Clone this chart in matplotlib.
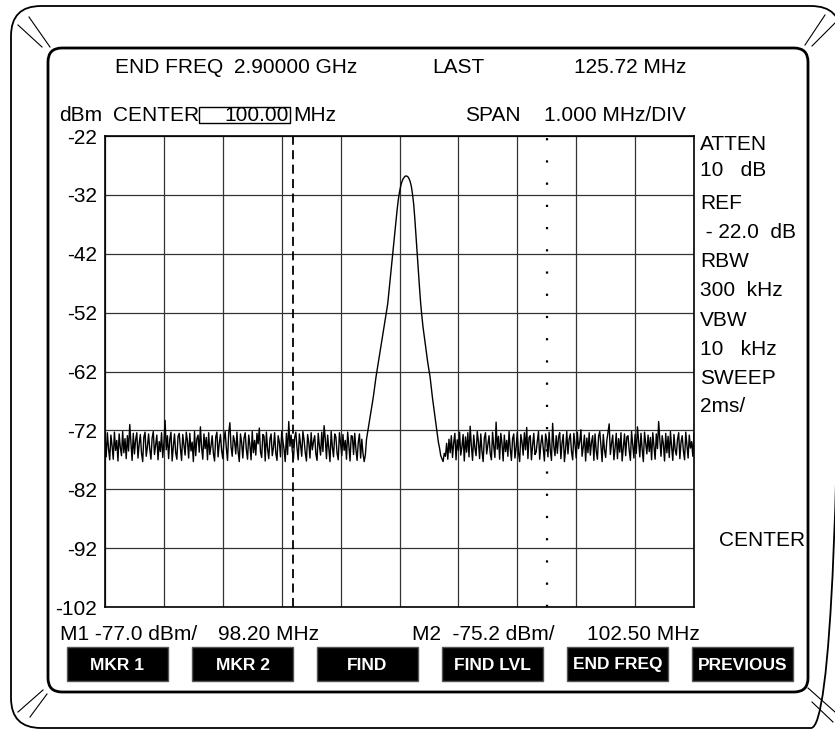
import numpy as np
import matplotlib.pyplot as plt
from matplotlib.patches import FancyBboxPatch, Rectangle

# 字体设置
plt.rcParams['font.family'] = ['Liberation Sans', 'DejaVu Sans']

# === 数据 ===
center_mhz = 100.00
span_mhz_div = 1.000
end_freq_ghz = 2.90000
last_mhz = 125.72
freq = np.linspace(95, 105, 501)   # 扫频点 (MHz), 0.02 MHz 步长

# 95.00 - 99.42 MHz 噪底
noise_left = [
    -73.2, -76.5, -72.4, -75.1, -77.0, -72.8, -74.6, -76.9, -72.3, -75.4,
    -73.7, -77.2, -72.6, -74.9, -76.3, -72.2, -75.8, -73.4, -76.8, -72.9,
    -75.5, -71.0, -74.2, -77.1, -72.5, -76.0, -73.6, -72.4, -76.7, -74.3,
    -72.7, -75.9, -77.3, -73.1, -72.3, -76.4, -74.8, -72.6, -75.2, -76.9,
    -73.3, -72.2, -76.1, -74.5, -72.8, -77.0, -73.9, -75.6, -72.4, -76.6,
    -74.1, -70.3, -75.3, -72.9, -76.8, -73.5, -72.3, -77.2, -74.7, -72.6,
    -75.8, -76.9, -73.0, -72.5, -75.0, -77.1, -72.7, -74.4, -76.2, -72.3,
    -73.8, -76.7, -72.5, -75.5, -74.0, -77.3, -72.2, -76.3, -73.4, -72.8,
    -75.7, -71.4, -74.9, -76.9, -72.6, -75.1, -73.2, -77.0, -72.4, -76.1,
    -74.6, -72.9, -75.9, -77.2, -73.1, -72.3, -76.5, -74.2, -72.7, -75.4,
    -76.8, -73.6, -72.2, -75.0, -77.1, -72.5, -70.7, -74.8, -76.4, -72.9,
    -73.9, -76.0, -72.3, -75.6, -77.3, -72.6, -74.1, -76.7, -73.3, -72.4,
    -75.3, -76.9, -72.8, -74.5, -77.0, -72.2, -75.8, -73.7, -76.2, -72.5,
    -74.3, -71.6, -75.7, -76.6, -72.7, -73.0, -77.2, -72.3, -75.1, -76.8,
    -73.5, -72.6, -76.3, -74.9, -72.4, -75.9, -77.1, -72.9, -74.0, -76.5,
    -72.2, -73.8, -75.2, -77.3, -72.5, -76.1, -70.5, -74.7, -72.8, -75.5,
    -76.9, -73.2, -72.3, -75.0, -77.0, -72.6, -74.4, -76.4, -72.2, -73.6,
    -75.8, -77.2, -72.7, -74.1, -76.7, -72.4, -75.3, -73.9, -72.9, -76.0,
    -77.1, -72.5, -74.6, -76.2, -72.3, -75.6, -71.2, -73.4, -76.8, -72.8,
    -75.1, -77.3, -72.2, -74.8, -76.5, -72.6, -73.1, -75.9, -77.0, -72.4,
    -74.2, -76.3, -72.7, -75.4, -73.7, -76.9, -72.3, -74.5, -77.2, -72.9,
    -73.0, -76.1, -72.5, -75.2, -77.1, -74.0, -72.6, -76.7, -73.5, -75.9,
    -77.3, -76.2,
]
# 99.44 - 100.70 MHz 信号峰
peak = [
    -73.5, -72.2, -71.0, -69.8, -68.5, -67.3, -66.0, -64.5, -63.0, -61.8,
    -60.5, -59.2, -58.0, -56.8, -55.5, -54.2, -53.0, -51.8, -50.5, -48.5,
    -46.5, -44.5, -42.5, -40.5, -38.5, -36.5, -34.5, -32.8, -31.5, -30.5,
    -29.8, -29.3, -29.0, -28.8, -28.8, -28.9, -29.2, -29.7, -30.5, -31.8,
    -33.5, -36.0, -39.0, -42.0, -45.0, -47.8, -50.5, -52.6, -54.5, -56.0,
    -57.5, -59.0, -60.5, -61.8, -63.0, -64.8, -66.5, -68.0, -69.5, -71.0,
    -72.5, -74.0, -75.0, -76.3,
]
# 100.72 - 105.00 MHz 噪底
noise_right = [
    -76.8, -77.3, -75.9, -76.4, -74.2, -76.9, -73.5, -75.8, -72.9, -76.6,
    -74.1, -72.5, -77.0, -73.6, -75.4, -72.3, -76.2, -74.8, -72.7, -77.2,
    -73.1, -75.7, -72.4, -76.5, -71.3, -74.6, -77.1, -72.8, -75.0, -76.3,
    -72.2, -73.9, -76.8, -72.6, -75.5, -77.3, -73.3, -72.4, -76.0, -74.4,
    -72.9, -75.9, -77.0, -72.3, -74.7, -76.6, -70.6, -75.2, -73.0, -76.9,
    -72.5, -74.2, -77.2, -72.8, -75.6, -73.7, -76.4, -72.2, -75.1, -77.1,
    -73.4, -72.6, -76.7, -74.9, -72.3, -75.8, -77.3, -72.7, -74.0, -76.2,
    -72.4, -75.3, -71.5, -76.8, -73.2, -72.9, -77.0, -74.5, -72.5, -76.1,
    -75.7, -73.8, -72.2, -76.9, -74.3, -72.8, -75.0, -77.2, -72.6, -73.6,
    -76.5, -72.3, -75.4, -77.1, -70.8, -74.7, -76.3, -72.9, -75.9, -73.1,
    -72.4, -76.8, -74.1, -72.7, -77.3, -75.2, -72.2, -76.0, -73.5, -72.6,
    -75.6, -77.0, -72.5, -74.4, -76.7, -72.3, -75.1, -73.9, -71.9, -76.4,
    -74.8, -72.8, -77.2, -73.3, -75.8, -72.4, -76.2, -74.0, -72.9, -77.1,
    -72.6, -75.5, -76.9, -73.0, -72.2, -74.6, -77.3, -72.7, -75.3, -76.6,
    -73.7, -72.3, -70.9, -76.1, -74.2, -72.8, -77.0, -75.0, -72.5, -76.8,
    -73.4, -75.7, -72.4, -77.2, -74.9, -72.6, -76.3, -73.1, -72.9, -75.4,
    -77.1, -72.2, -74.5, -76.7, -72.7, -75.9, -71.4, -73.8, -76.5, -72.5,
    -75.2, -77.3, -72.3, -74.1, -76.0, -72.8, -75.6, -73.2, -77.0, -72.4,
    -74.7, -76.9, -72.6, -75.1, -70.5, -73.6, -76.4, -72.9, -74.3, -77.2,
    -72.5, -75.8, -73.0, -76.6, -72.2, -74.8, -77.1, -72.7, -75.3, -76.2,
    -73.5, -72.4, -76.8, -74.0, -72.9, -75.5, -77.0, -72.3, -74.6, -76.7,
    -72.8, -75.0, -73.9, -76.4, -72.5,
]
level = np.array(noise_left + peak + noise_right)

m1_freq, m1_level = 98.20, -77.0
m2_freq, m2_level = 102.50, -75.2
y_ticks = [-22, -32, -42, -52, -62, -72, -82, -92, -102]
side_labels = ['ATTEN', '10   dB', 'REF', ' - 22.0  dB', 'RBW', '300  kHz',
               'VBW', '10   kHz', 'SWEEP', '2ms/']
buttons = ['MKR 1', 'MKR 2', 'FIND', 'FIND LVL', 'END FREQ', 'PREVIOUS']

# === 画布 (像素坐标) ===
W, H = 835, 729
fig = plt.figure(figsize=(W / 100, H / 100), dpi=100)
bg = fig.add_axes([0, 0, 1, 1])
bg.set_xlim(0, W)
bg.set_ylim(H, 0)
bg.axis('off')

# 外框和内框
bg.add_patch(FancyBboxPatch((11, 6), 830, 722, boxstyle='round,pad=0,rounding_size=30',
                            fill=False, lw=1.3, ec='black'))
bg.add_patch(FancyBboxPatch((48, 48), 760, 644, boxstyle='round,pad=0,rounding_size=14',
                            fill=False, lw=2.0, ec='black'))

# 四角的斜线
corner_lines = [
    ((18, 42), (25, 47)), ((29, 50), (17, 47)),
    ((825, 805), (15, 45)), ((835, 812), (23, 46)),
    ((18, 43), (712, 690)), ((30, 47), (717, 694)),
    ((808, 835), (688, 712)), ((812, 833), (702, 722)),
]
for xs, ys in corner_lines:
    bg.plot(xs, ys, color='black', lw=0.8)

fs = 15
# 顶部两行
bg.text(115, 67, 'END FREQ', fontsize=fs, va='center')
bg.text(234, 67, f'{end_freq_ghz:.5f} GHz', fontsize=fs, va='center')
bg.text(432, 67, 'LAST', fontsize=fs, va='center')
bg.text(686, 67, f'{last_mhz:.2f} MHz', fontsize=fs, va='center', ha='right')

bg.text(59, 115, 'dBm', fontsize=fs, va='center')
bg.text(113, 115, 'CENTER', fontsize=fs, va='center')
bg.add_patch(Rectangle((199, 107), 91, 16, fill=False, lw=1.0, ec='black'))
bg.text(289, 115, f'{center_mhz:.2f}', fontsize=fs, va='center', ha='right')
bg.text(293, 115, 'MHz', fontsize=fs, va='center')
bg.text(465, 115, 'SPAN', fontsize=fs, va='center')
bg.text(686, 115, f'{span_mhz_div:.3f} MHz/DIV', fontsize=fs, va='center', ha='right')

# 右侧参数
side_y = [144, 170, 203, 232, 261, 290, 320, 349, 378, 406]
for lab, yy in zip(side_labels, side_y):
    bg.text(700, yy, lab, fontsize=fs, va='center')
bg.text(805, 540, 'CENTER', fontsize=fs, va='center', ha='right')

# 标记读数
bg.text(60, 634, f'M1 {m1_level:.1f} dBm/', fontsize=fs, va='center')
bg.text(218, 634, f'{m1_freq:.2f} MHz', fontsize=fs, va='center')
bg.text(412, 634, f'M2  {m2_level:.1f} dBm/', fontsize=fs, va='center')
bg.text(700, 634, f'{m2_freq:.2f} MHz', fontsize=fs, va='center', ha='right')

# 软键
for i, lab in enumerate(buttons):
    x0 = 67 + i * 125
    bg.add_patch(Rectangle((x0, 647), 101, 34, fc='black', ec='#555555', lw=1))
    bg.text(x0 + 50.5, 665, lab, fontsize=12.5, color='white', ha='center', va='center',
            fontweight='bold')

# === 频谱图 ===
ax = fig.add_axes([105 / W, (H - 607) / H, 589 / W, 471 / H])
ax.set_facecolor('none')
ax.set_xlim(95, 105)
ax.set_ylim(-102, -22)
ax.set_xticks(np.arange(95, 105.5, span_mhz_div))
ax.set_xticklabels([])
ax.set_yticks(y_ticks)
ax.set_yticklabels([str(v) for v in y_ticks])
ax.tick_params(length=0, labelsize=fs, pad=5.5)
ax.grid(True, color='#333333', lw=0.9)
for spine in ax.spines.values():
    spine.set_linewidth(1.2)

ax.plot(freq, level, color='black', lw=1.0)
ax.axvline(m1_freq, color='black', lw=1.3, linestyle=(0, (5, 3)))
ax.axvline(m2_freq, color='black', lw=1.6, linestyle=(0, (1, 9)))

plt.savefig('out.png', dpi=100)
